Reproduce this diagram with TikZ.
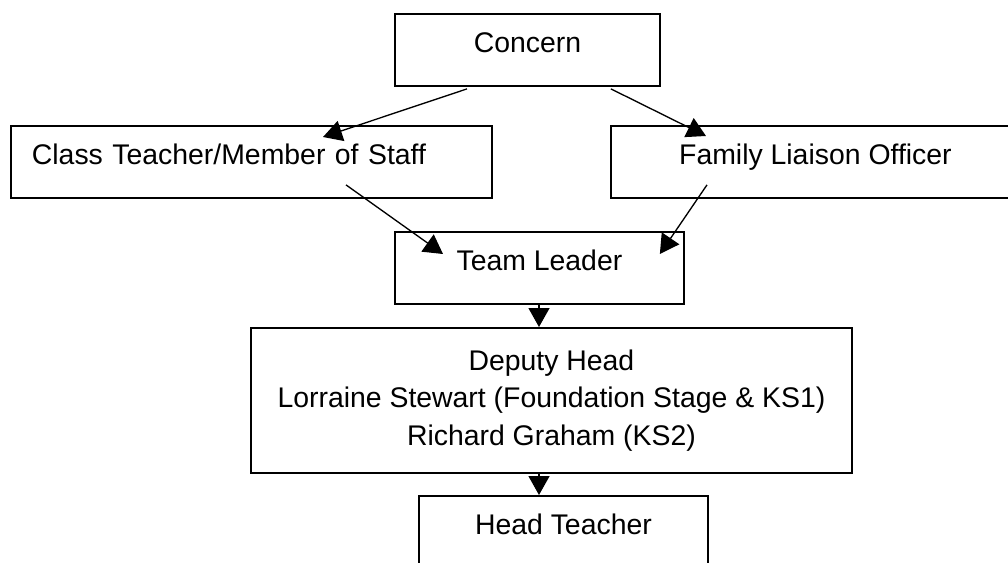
\documentclass[tikz,border=0pt]{standalone}
\usepackage{fontspec}
\setmainfont{Liberation Sans}
\usetikzlibrary{arrows.meta}

\begin{document}
\begin{tikzpicture}[x=0.75pt, y=-0.75pt,
        box/.style={draw, line width=1.4pt, inner ysep=0pt, anchor=north west,
                    font=\fontsize{21.3pt}{28.1pt}\selectfont},
        line box/.style={box, text height=29.25pt, text depth=24.75pt},
        flow/.style={-{Triangle[length=14.25pt, width=15.75pt]}, line width=1pt}]
        \useasboundingbox (0,0) rectangle (1008,562);
        \clip (0,0) rectangle (1008,562);

        \node[line box, minimum width=198.75pt]                         (concern)        at (394,13)  {Concern};
        \node[line box, text width=329.25pt, align=left, inner xsep=15.75pt] (class teacher)  at (10,125)  {Class Teacher/Member of Staff};
        \node[line box, minimum width=306.75pt]                         (family officer) at (610,125) {Family Liaison Officer};
        \node[line box, minimum width=216.75pt]                         (team leader)    at (394,231) {Team Leader};
        \node[box, minimum width=450.75pt, minimum height=108.75pt, align=center] (deputy head) at (250,327)
            {Deputy Head\\Lorraine Stewart (Foundation Stage \& KS1)\\Richard Graham (KS2)};
        \node[line box, minimum width=216.75pt]                         (head teacher)   at (418,495) {Head Teacher};

        \draw[flow] ([shift={(73,2)}]concern.south west)    -- ([shift={(313,12)}]class teacher.north west);
        \draw[flow] ([shift={(-50,2)}]concern.south east)   -- ([shift={(96,11)}]family officer.north west);
        \draw[flow] ([shift={(336,-14)}]class teacher.south west) -- ([shift={(49,23)}]team leader.north west);
        \draw[flow] ([shift={(97,-14)}]family officer.south west) -- ([shift={(-25,23)}]team leader.north east);
        \draw[flow] ([shift={(145,0)}]team leader.south west) -- ([shift={(289,0)}]deputy head.north west);
        \draw[flow] ([shift={(289,0)}]deputy head.south west) -- ([shift={(121,0)}]head teacher.north west);
    \end{tikzpicture}
\end{document}
